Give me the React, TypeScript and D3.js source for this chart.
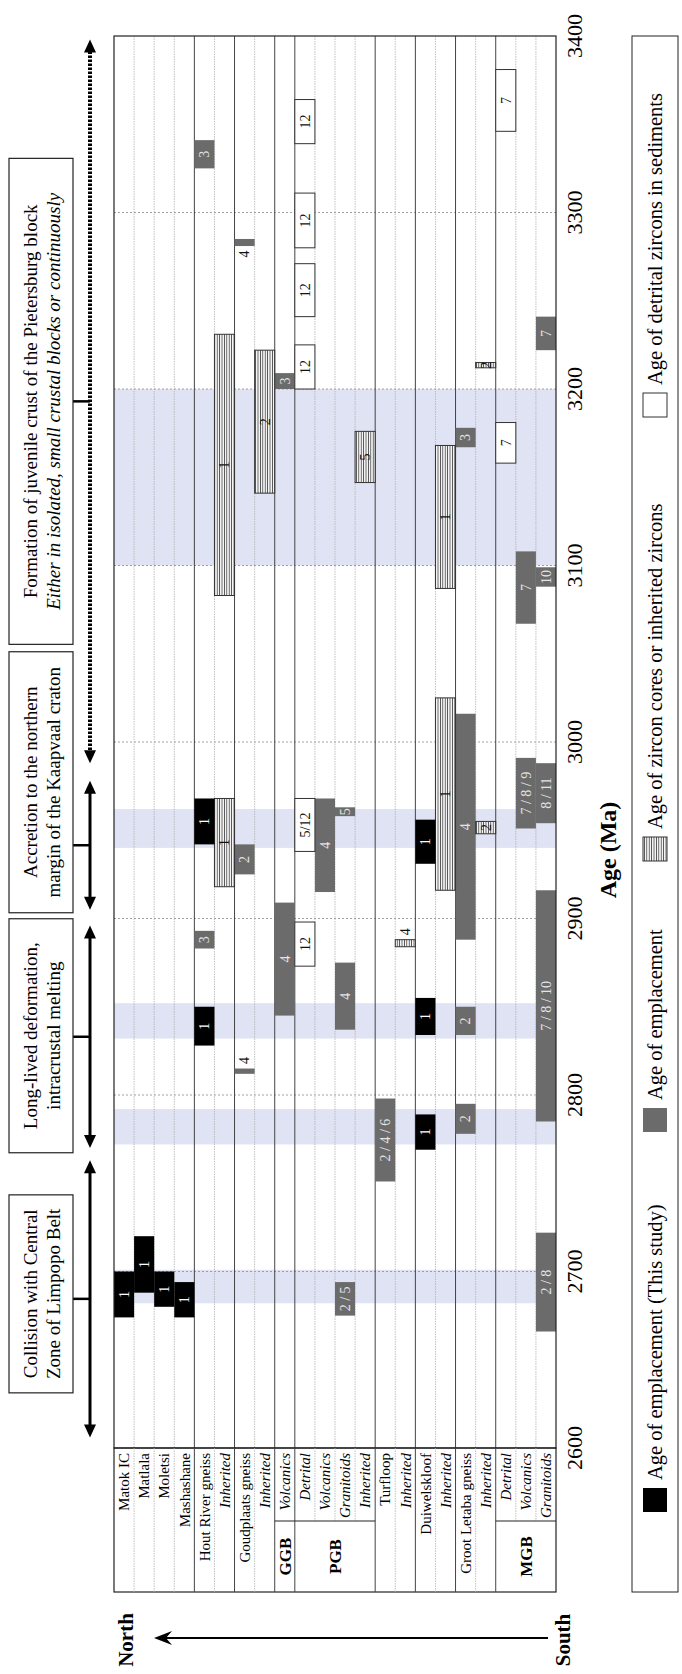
import React from 'react';
import * as d3 from 'd3';

const W = 682;
const H = 1674;

// ---------- data ----------
const rowLabels = [
  'Matok IC', 'Matlala', 'Moletsi', 'Mashashane', 'Hout River gneiss', 'Inherited',
  'Goudplaats gneiss', 'Inherited', 'Volcanics', 'Detrital', 'Volcanics', 'Granitoids',
  'Inherited', 'Turfloop', 'Inherited', 'Duiwelskloof', 'Inherited', 'Groot Letaba gneiss',
  'Inherited', 'Detrital', 'Volcanics', 'Granitoids',
];
const rowItalic = [
  false, false, false, false, false, true, false, true, true, true, true, true,
  true, false, true, false, true, false, true, true, true, true,
];
const groupNames = ['GGB', 'PGB', 'MGB'];
const groupFirstRow = [8, 9, 19];
const groupLastRow = [8, 12, 21];
const solidAfterRow = [3, 5, 7, 8, 12, 14, 16, 18];

const ageTicks = [2600, 2700, 2800, 2900, 3000, 3100, 3200, 3300, 3400];

const bandFrom = [3100, 2940, 2832, 2772, 2682];
const bandTo = [3200, 2962, 2852, 2792, 2701];

// [row, from (Ma), to (Ma), label, label side]
const thisStudy: [number, number, number, string, string?][] = [
  [0, 2674, 2700, '1'],
  [1, 2688, 2720, '1'],
  [2, 2680, 2700, '1'],
  [3, 2674, 2694, '1'],
  [4, 2828, 2850, '1'],
  [4, 2942, 2968, '1'],
  [15, 2769, 2789, '1'],
  [15, 2834, 2855, '1'],
  [15, 2931, 2956, '1'],
];
const emplacement: [number, number, number, string, string?][] = [
  [4, 2883, 2893, '3'],
  [4, 3325, 3341, '3'],
  [6, 2812, 2815, '4', 'above'],
  [6, 2925, 2942, '2'],
  [6, 3281, 3285, '4', 'below'],
  [8, 2845, 2909, '4'],
  [8, 3200, 3209, '3'],
  [10, 2915, 2968, '4'],
  [11, 2675, 2694, '2 / 5'],
  [11, 2837, 2875, '4'],
  [11, 2958, 2963, '5'],
  [13, 2751, 2798, '2 / 4 / 6'],
  [17, 2778, 2795, '2'],
  [17, 2834, 2850, '2'],
  [17, 2888, 3016, '4'],
  [17, 3167, 3178, '3'],
  [20, 2951, 2991, '7 / 8 / 9'],
  [20, 3067, 3108, '7'],
  [21, 2666, 2722, '2 / 8'],
  [21, 2785, 2916, '7 / 8 / 10'],
  [21, 2954, 2988, '8 / 11'],
  [21, 3088, 3099, '10'],
  [21, 3222, 3241, '7'],
];
const inherited: [number, number, number, string, string?][] = [
  [5, 2918, 2968, '1'],
  [5, 3083, 3231, '1'],
  [7, 3141, 3222, '2'],
  [12, 3147, 3176, '5'],
  [14, 2884, 2888, '4', 'above'],
  [16, 2916, 3025, '1'],
  [16, 3087, 3168, '1'],
  [18, 2948, 2955, '2'],
  [18, 3212, 3215, '2'],
];
const detrital: [number, number, number, string, string?][] = [
  [9, 2873, 2898, '12'],
  [9, 2938, 2968, '5/12'],
  [9, 3200, 3225, '12'],
  [9, 3241, 3271, '12'],
  [9, 3280, 3311, '12'],
  [9, 3339, 3364, '12'],
  [19, 3158, 3181, '7'],
  [19, 3346, 3381, '7'],
];

const periodLine1 = ['Collision with Central', 'Long-lived deformation,', 'Accretion to the northern', 'Formation of juvenile crust of the Pietersburg block'];
const periodLine2 = ['Zone of Limpopo Belt', 'intracrustal melting', 'margin of the Kaapvaal craton', 'Either in isolated, small crustal blocks or continuously'];
const periodFrom = [2606, 2770, 2905, 2988];
const periodTo = [2763, 2896, 2978, 3398];

const legendLabels = ['Age of emplacement (This study)', 'Age of emplacement', 'Age of zircon cores or inherited zircons', 'Age of detrital zircons in sediments'];

// ---------- layout ----------
const FONT = "'Liberation Serif', 'Times New Roman', serif";
const PLOT_LEFT = 114;
const PLOT_RIGHT = 556;
const PLOT_TOP = 36;
const PLOT_BOTTOM = 1448;
const TABLE_MID = 1521;
const TABLE_BOTTOM = 1592;
const GRAY = '#6b6b6b';
const BAND = '#dfe3f3';

export default function App() {
  const y = d3.scaleLinear().domain([2600, 3400]).range([PLOT_BOTTOM, PLOT_TOP]);
  const x = d3.scaleBand<number>().domain(d3.range(rowLabels.length)).range([PLOT_LEFT, PLOT_RIGHT]);
  const bw = x.bandwidth();

  const rot = (cx: number, cy: number) => `rotate(-90 ${cx} ${cy})`;

  const renderBars = (
    data: [number, number, number, string, string?][],
    fill: string,
    stroke: string,
    textFill: string,
    key: string
  ) =>
    data.map((d, i) => {
      const [r, a0, a1, lab, side] = d;
      const x0 = x(r)!;
      const yTop = y(a1);
      const yBot = y(a0);
      const cx = x0 + bw / 2;
      let cy = (yTop + yBot) / 2;
      let tf = textFill;
      if (side === 'above') { cy = yTop - 8; tf = '#111'; }
      if (side === 'below') { cy = yBot + 8; tf = '#111'; }
      return (
        <g key={key + i}>
          <rect x={x0} y={yTop} width={bw} height={Math.max(2, yBot - yTop)} fill={fill}
            stroke={stroke} strokeWidth={stroke === 'none' ? 0 : 1} />
          <text x={cx} y={cy} transform={rot(cx, cy)} textAnchor="middle" dy="0.35em"
            fontSize={14} fontFamily={FONT} fill={tf}>{lab}</text>
        </g>
      );
    });

  const arrowX = 90;
  const boxLeft = 9;
  const boxRight = 73;
  const boxHeights = [198, 234, 261, 486];
  const boxShift = [-5, -1, -63, 0];

  return (
    <svg width={W} height={H} style={{ position: 'absolute', left: 0, top: 0, background: '#fff' }}
      xmlns="http://www.w3.org/2000/svg">
      <defs>
        <pattern id="hatch" width="2.4" height="8" patternUnits="userSpaceOnUse">
          <rect width="2.4" height="8" fill="#fff" />
          <line x1="1.2" y1="0" x2="1.2" y2="8" stroke="#444" strokeWidth="0.9" />
        </pattern>
      </defs>
      <rect width={W} height={H} fill="#fff" />

      {/* bands */}
      {bandFrom.map((b, i) => (
        <rect key={'band' + i} x={PLOT_LEFT} y={y(bandTo[i])} width={PLOT_RIGHT - PLOT_LEFT}
          height={y(bandFrom[i]) - y(bandTo[i])} fill={BAND} />
      ))}

      {/* gridlines */}
      {ageTicks.slice(1, -1).map((t) => (
        <line key={'g' + t} x1={PLOT_LEFT} x2={PLOT_RIGHT} y1={y(t)} y2={y(t)}
          stroke="#8a8a8a" strokeWidth={0.8} strokeDasharray="2,2" />
      ))}

      {/* column separators in plot */}
      {d3.range(1, rowLabels.length).map((c) => {
        const solid = solidAfterRow.includes(c - 1);
        return (
          <line key={'cs' + c} x1={x(c)} x2={x(c)} y1={PLOT_TOP} y2={PLOT_BOTTOM}
            stroke={solid ? '#444' : '#b0b0b0'} strokeWidth={solid ? 1 : 0.8}
            strokeDasharray={solid ? undefined : '1.5,1'} />
        );
      })}

      {/* bars */}
      {renderBars(emplacement, GRAY, 'none', '#e4e4e4', 'e')}
      {renderBars(inherited, 'url(#hatch)', '#333', '#111', 'h')}
      {renderBars(detrital, '#fff', '#333', '#111', 'd')}
      {renderBars(thisStudy, '#000', 'none', '#fff', 't')}

      {/* plot frame */}
      <rect x={PLOT_LEFT} y={PLOT_TOP} width={PLOT_RIGHT - PLOT_LEFT} height={PLOT_BOTTOM - PLOT_TOP}
        fill="none" stroke="#222" strokeWidth={1.2} />

      {/* table */}
      <rect x={PLOT_LEFT} y={PLOT_BOTTOM} width={PLOT_RIGHT - PLOT_LEFT} height={TABLE_BOTTOM - PLOT_BOTTOM}
        fill="none" stroke="#222" strokeWidth={1.2} />
      {d3.range(1, rowLabels.length).map((c) => {
        const solid = solidAfterRow.includes(c - 1);
        const inGroup = groupFirstRow.some((g, gi) => c > g && c <= groupLastRow[gi]);
        return (
          <line key={'ts' + c} x1={x(c)} x2={x(c)} y1={PLOT_BOTTOM} y2={inGroup ? TABLE_MID : TABLE_BOTTOM}
            stroke={solid ? '#444' : '#b0b0b0'} strokeWidth={solid ? 1 : 0.8}
            strokeDasharray={solid ? undefined : '1.5,1'} />
        );
      })}
      {groupNames.map((g, gi) => {
        const xa = x(groupFirstRow[gi])!;
        const xb = x(groupLastRow[gi])! + bw;
        const cx = (xa + xb) / 2;
        const cy = (TABLE_MID + TABLE_BOTTOM) / 2;
        return (
          <g key={'grp' + g}>
            <line x1={xa} x2={xb} y1={TABLE_MID} y2={TABLE_MID} stroke="#222" strokeWidth={1} />
            <text x={cx} y={cy} transform={rot(cx, cy)} textAnchor="middle" dy="0.35em"
              fontSize={17} fontWeight="bold" fontFamily={FONT}>{g}</text>
          </g>
        );
      })}
      {rowLabels.map((lab, r) => {
        const cx = x(r)! + bw / 2;
        const cy = PLOT_BOTTOM + 5;
        return (
          <text key={'rl' + r} x={cx} y={cy} transform={rot(cx, cy)} textAnchor="end" dy="0.35em"
            fontSize={15} fontStyle={rowItalic[r] ? 'italic' : 'normal'} fontFamily={FONT}>{lab}</text>
        );
      })}

      {/* tick labels */}
      {ageTicks.map((t) => (
        <text key={'tl' + t} x={574} y={y(t)} transform={rot(574, y(t))} textAnchor="middle" dy="0.35em"
          fontSize={22} fontFamily={FONT}>{t}</text>
      ))}
      <text x={608} y={850} transform={rot(608, 850)} textAnchor="middle" dy="0.35em"
        fontSize={24} fontWeight="bold" fontFamily={FONT}>Age (Ma)</text>

      {/* legend */}
      <rect x={632} y={PLOT_TOP} width={46} height={TABLE_BOTTOM - PLOT_TOP} fill="none" stroke="#222" strokeWidth={1} />
      {legendLabels.map((lab, i) => {
        const centers = [1500, 1120, 849, 405];
        const fills = ['#000', GRAY, 'url(#hatch)', '#fff'];
        const sc = centers[i];
        const tx = 655;
        const ty = sc - 20;
        return (
          <g key={'lg' + i}>
            <rect x={643} y={sc - 12} width={24} height={24} fill={fills[i]}
              stroke={i >= 2 ? '#333' : 'none'} strokeWidth={1} />
            <text x={tx} y={ty} transform={rot(tx, ty)} textAnchor="start" dy="0.35em"
              fontSize={20.5} fontFamily={FONT}>{lab}</text>
          </g>
        );
      })}

      {/* period annotations */}
      {periodFrom.map((pf, i) => {
        const yTip0 = y(pf);
        const yTip1 = y(periodTo[i]);
        const mid = (yTip0 + yTip1) / 2;
        const bh = boxHeights[i];
        const bc = mid + boxShift[i];
        const dashed = i === 3;
        const hl = 13;
        return (
          <g key={'per' + i}>
            <line x1={arrowX} x2={arrowX} y1={yTip1 + hl - 1} y2={yTip0 - hl + 1} stroke="#000"
              strokeWidth={dashed ? 4 : 3} strokeDasharray={dashed ? '2.5,1.5' : undefined} />
            <polygon points={`${arrowX},${yTip1} ${arrowX - 6},${yTip1 + hl} ${arrowX + 6},${yTip1 + hl}`} fill="#000" />
            <polygon points={`${arrowX},${yTip0} ${arrowX - 6},${yTip0 - hl} ${arrowX + 6},${yTip0 - hl}`} fill="#000" />
            <line x1={boxRight} x2={arrowX} y1={mid} y2={mid} stroke="#000" strokeWidth={2.5} />
            <rect x={boxLeft} y={bc - bh / 2} width={boxRight - boxLeft} height={bh} fill="#fff" stroke="#222" strokeWidth={1.2} />
            <text x={30} y={bc} transform={rot(30, bc)} textAnchor="middle" dy="0.35em"
              fontSize={19} fontFamily={FONT}>{periodLine1[i]}</text>
            <text x={53} y={bc} transform={rot(53, bc)} textAnchor="middle" dy="0.35em"
              fontSize={19} fontFamily={FONT} fontStyle={i === 3 ? 'italic' : 'normal'}>{periodLine2[i]}</text>
          </g>
        );
      })}

      {/* North / South */}
      <line x1={166} x2={548} y1={1638} y2={1638} stroke="#000" strokeWidth={2} />
      <polygon points={`154,1638 172,1631 166,1638 172,1645`} fill="#000" />
      <text x={126} y={1640} transform={rot(126, 1640)} textAnchor="middle" dy="0.35em"
        fontSize={21} fontWeight="bold" fontFamily={FONT}>North</text>
      <text x={563} y={1640} transform={rot(563, 1640)} textAnchor="middle" dy="0.35em"
        fontSize={21} fontWeight="bold" fontFamily={FONT}>South</text>
    </svg>
  );
}
